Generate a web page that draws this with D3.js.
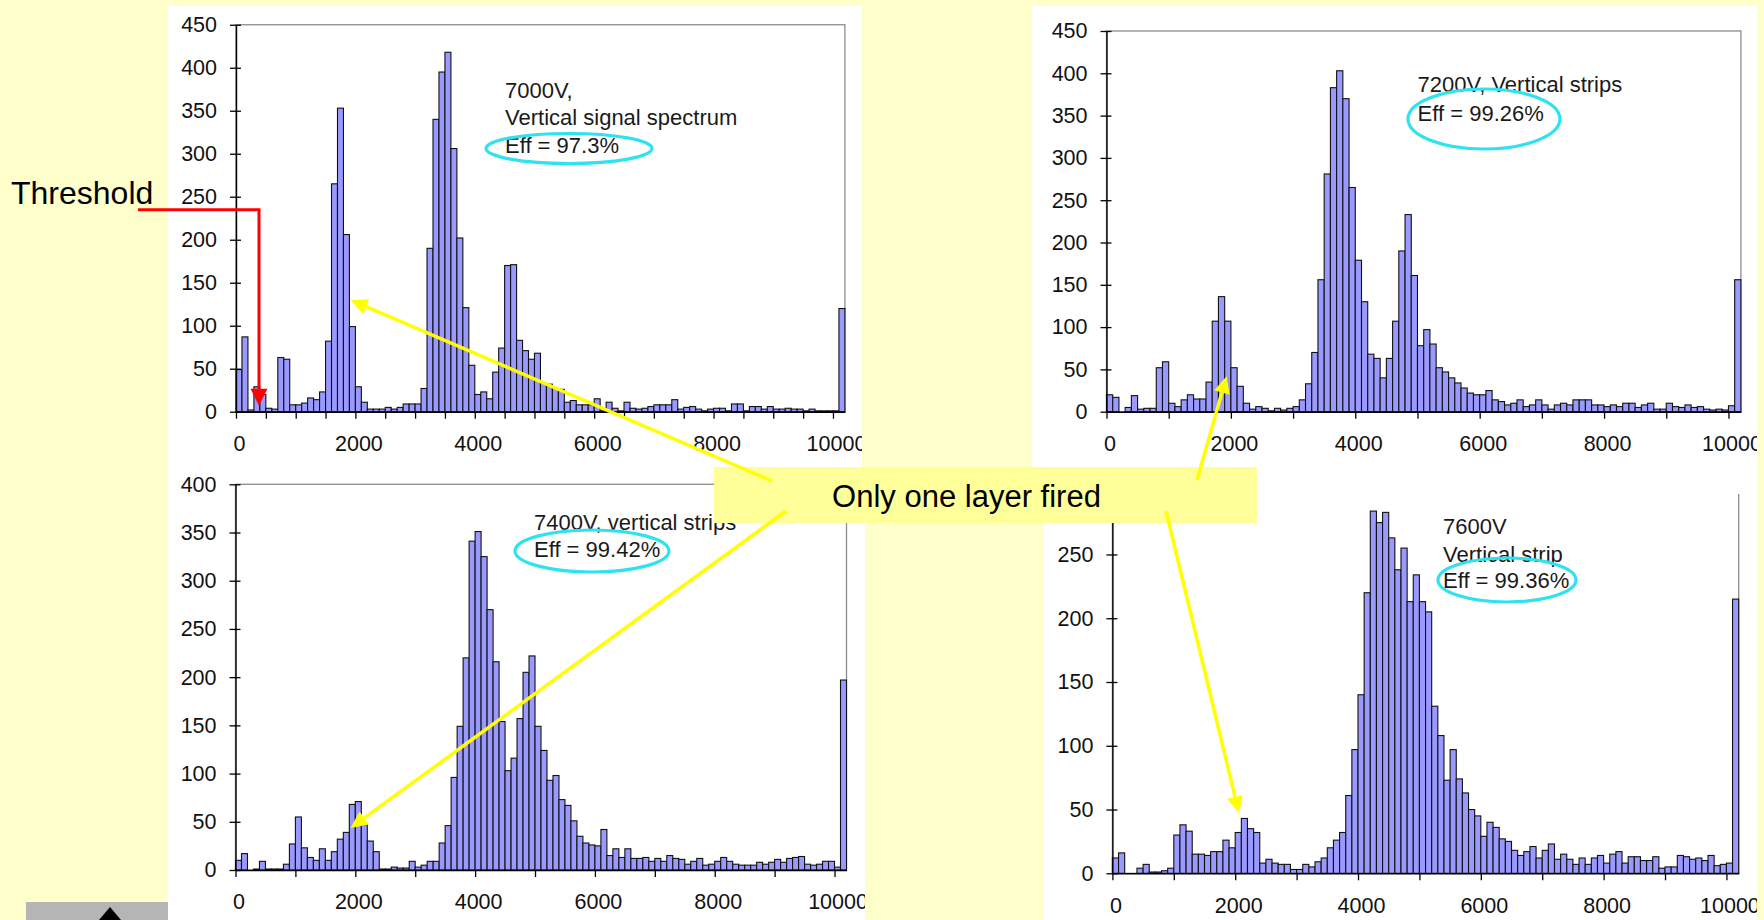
<!DOCTYPE html>
<html>
<head>
<meta charset="utf-8">
<script src="https://cdn.jsdelivr.net/npm/d3@7"></script>
<style>
  html, body { margin: 0; padding: 0; background: #FFFFCC; }
  svg { display: block; }
  text { font-family: "Liberation Sans", Arial, sans-serif; }
</style>
</head>
<body>
<svg id="slide" width="1764" height="920"></svg>
<script>
// ---- Pulse-height spectra: 102 bins of 100 ADC counts, last bin is overflow ----
const binWidth = 100;

const counts7000 = [
  49, 87, 2, 29, 20, 4, 3, 63, 61, 8,
  8, 10, 16, 14, 23, 82, 265, 353, 206, 99,
  29, 11, 3, 3, 3, 5, 3, 5, 9, 9,
  9, 27, 190, 340, 395, 418, 306, 202, 121, 54,
  20, 23, 15, 46, 74, 170, 171, 83, 71, 61,
  68, 33, 32, 27, 26, 11, 13, 8, 8, 8,
  15, 1, 11, 4, 1, 11, 4, 3, 4, 6,
  8, 8, 8, 14, 3, 5, 6, 3, 1, 3,
  4, 4, 1, 9, 9, 1, 6, 6, 3, 6,
  3, 3, 4, 3, 3, 1, 3, 1, 1, 1,
  1, 120
];

const counts7200 = [
  20, 17, 0, 5, 19, 3, 4, 4, 52, 59,
  10, 6, 14, 20, 15, 15, 35, 107, 136, 107,
  52, 30, 10, 3, 6, 4, 1, 4, 2, 4,
  6, 14, 33, 70, 156, 281, 383, 403, 370, 265,
  179, 130, 68, 63, 40, 63, 107, 190, 233, 161,
  78, 97, 80, 52, 47, 40, 34, 28, 22, 20,
  20, 25, 14, 12, 8, 10, 14, 6, 8, 14,
  8, 3, 8, 10, 8, 14, 14, 14, 8, 8,
  6, 8, 6, 10, 10, 5, 8, 10, 3, 3,
  10, 6, 5, 8, 5, 6, 3, 2, 3, 2,
  7, 156
];

const counts7400 = [
  10, 17, 0, 1, 9, 1, 1, 1, 6, 27,
  55, 23, 13, 10, 22, 10, 19, 32, 39, 68,
  71, 47, 30, 19, 1, 1, 3, 2, 2, 9,
  3, 5, 9, 9, 28, 46, 96, 149, 220, 341,
  351, 325, 270, 216, 154, 103, 116, 157, 205, 222,
  149, 124, 93, 98, 73, 67, 51, 35, 28, 26,
  25, 42, 15, 22, 13, 22, 12, 12, 13, 9,
  12, 9, 15, 12, 11, 6, 9, 12, 5, 6,
  9, 13, 9, 6, 5, 5, 5, 8, 6, 8,
  11, 8, 12, 13, 14, 6, 5, 6, 9, 9,
  3, 197
];

const counts7600 = [
  12, 16, 0, 0, 4, 7, 1, 1, 2, 4,
  30, 38, 33, 15, 15, 14, 17, 17, 26, 20,
  32, 43, 35, 32, 8, 11, 8, 7, 7, 3,
  3, 7, 5, 9, 12, 20, 26, 32, 61, 97,
  140, 220, 284, 275, 283, 263, 238, 255, 213, 234,
  213, 205, 131, 108, 73, 97, 74, 63, 50, 45,
  29, 40, 36, 27, 25, 18, 14, 17, 21, 12,
  18, 23, 11, 15, 11, 7, 12, 7, 12, 14,
  8, 15, 17, 8, 13, 13, 10, 10, 13, 4,
  5, 5, 14, 13, 11, 12, 10, 14, 6, 7,
  8, 215
];

const yTicks450 = [0, 50, 100, 150, 200, 250, 300, 350, 400, 450];
const yTicks400 = [0, 50, 100, 150, 200, 250, 300, 350, 400];
const yTicks300 = [0, 50, 100, 150, 200, 250];
const xLabelValues = [0, 2000, 4000, 6000, 8000, 10000];

const notes7000 = ["7000V,", "Vertical signal spectrum", "Eff = 97.3%"];
const notes7200 = ["7200V, Vertical strips", "Eff = 99.26%"];
const notes7400 = ["7400V, vertical strips", "Eff = 99.42%"];
const notes7600 = ["7600V", "Vertical strip", "Eff = 99.36%"];

const calloutText = "Only one layer fired";
const thresholdText = "Threshold";

// ---- layout ----
const svg = d3.select("#slide");
const FONT = 21.5;
const BAR_FILL = "#9999FF";
const RING = "#2FE2F0";
const ARROW_YELLOW = "#FFFF00";

// white chart backgrounds of the slide
const sheets = [
  [168, 6, 694, 466],
  [168, 470, 697, 450],
  [1032, 6, 725, 490],
  [1044, 494, 713, 426]
];
svg.selectAll("rect.sheet").data(sheets).join("rect")
  .attr("class", "sheet")
  .attr("x", d => d[0]).attr("y", d => d[1])
  .attr("width", d => d[2]).attr("height", d => d[3])
  .attr("fill", "#FFFFFF");

const panels = [
  { key: "p7000", counts: counts7000, yMax: 450, yTicks: yTicks450, xStep: 500,
    x0: 236, x1: 844.9, yB: 411.7, yT: 24.75, clip: [168, 6, 694, 466],
    notes: notes7000, noteX: 505, noteY: [98.3, 125, 152.7], ring: [569, 148.5, 83, 15] },
  { key: "p7200", counts: counts7200, yMax: 450, yTicks: yTicks450, xStep: 1000,
    x0: 1106.5, x1: 1740.9, yB: 411.7, yT: 31, clip: [1032, 6, 725, 490],
    notes: notes7200, noteX: 1417.6, noteY: [91.7, 120.7], ring: [1484, 119, 76, 30] },
  { key: "p7400", counts: counts7400, yMax: 400, yTicks: yTicks400, xStep: 1000,
    x0: 235.5, x1: 846.5, yB: 870, yT: 484.3, clip: [168, 470, 697, 450],
    notes: notes7400, noteX: 534, noteY: [530, 557.3], ring: [592, 551, 77, 21] },
  { key: "p7600", counts: counts7600, yMax: 300, yTicks: yTicks300, xStep: 1000,
    x0: 1112.4, x1: 1738.7, yB: 873.3, yT: 490.7, clip: [1044, 494, 713, 426],
    notes: notes7600, noteX: 1443, noteY: [534, 561.7, 588.3], ring: [1507, 580, 69, 22] }
];

const defs = svg.append("defs");
const scales = {};

panels.forEach(p => {
  const nBins = p.counts.length;
  const x = d3.scaleLinear().domain([0, nBins * binWidth]).range([p.x0, p.x1]);
  const y = d3.scaleLinear().domain([0, p.yMax]).range([p.yB, p.yT]);
  scales[p.key] = { x, y };

  defs.append("clipPath").attr("id", "clip-" + p.key)
    .append("rect").attr("x", p.clip[0]).attr("y", p.clip[1])
    .attr("width", p.clip[2]).attr("height", p.clip[3]);

  const g = svg.append("g").attr("clip-path", `url(#clip-${p.key})`);

  // plot-area frame
  g.append("rect")
    .attr("x", x.range()[0]).attr("y", y.range()[1])
    .attr("width", x.range()[1] - x.range()[0])
    .attr("height", y.range()[0] - y.range()[1])
    .attr("fill", "none").attr("stroke", "#8c8c8c").attr("stroke-width", 1.3);

  // histogram columns
  const bins = p.counts.map((v, i) => ({ lo: i * binWidth, hi: (i + 1) * binWidth, v }));
  g.append("g").selectAll("rect").data(bins.filter(b => b.v > 0)).join("rect")
    .attr("x", b => x(b.lo))
    .attr("width", b => x(b.hi) - x(b.lo))
    .attr("y", b => y(b.v))
    .attr("height", b => y(0) - y(b.v))
    .attr("fill", BAR_FILL)
    .attr("stroke", "#111")
    .attr("stroke-width", 1.1);

  // y axis (ticks cross the axis line)
  const yAxis = d3.axisLeft(y).tickValues(p.yTicks).tickSize(6).tickSizeOuter(0).tickPadding(13)
    .tickFormat(d3.format("d"));
  const ya = g.append("g").attr("transform", `translate(${x(0)},0)`).call(yAxis);
  ya.selectAll(".tick").append("line").attr("x1", 0).attr("x2", 5).attr("stroke", "#000");
  ya.selectAll("line").attr("stroke", "#000").attr("stroke-width", 1.3);
  ya.select(".domain").attr("stroke", "#000").attr("stroke-width", 1.4);
  ya.selectAll("text").attr("font-size", FONT).attr("fill", "#111")
    .attr("font-family", "Liberation Sans, Arial, sans-serif");

  // x axis: minor ticks every xStep, labels every 2000
  const xTickVals = d3.range(0, 10000 + 1, p.xStep);
  const xAxis = d3.axisBottom(x).tickValues(xTickVals).tickSize(7).tickSizeOuter(0).tickPadding(17)
    .tickFormat(d => xLabelValues.includes(d) ? String(d) : "");
  const xa = g.append("g").attr("transform", `translate(0,${y(0)})`).call(xAxis);
  xa.selectAll("line").attr("stroke", "#000").attr("stroke-width", 1.3);
  xa.select(".domain").attr("stroke", "#000").attr("stroke-width", 1.4);
  xa.selectAll("text").attr("font-size", FONT).attr("fill", "#111").attr("dx", 3)
    .attr("font-family", "Liberation Sans, Arial, sans-serif");

  // run notes
  g.append("g").selectAll("text").data(p.notes).join("text")
    .attr("x", p.noteX)
    .attr("y", (d, i) => p.noteY[i])
    .attr("font-size", FONT + 0.5)
    .attr("fill", "#1a1a1a")
    .text(d => d);

  // efficiency ring
  svg.append("ellipse")
    .attr("cx", p.ring[0]).attr("cy", p.ring[1])
    .attr("rx", p.ring[2]).attr("ry", p.ring[3])
    .attr("fill", "none").attr("stroke", RING).attr("stroke-width", 3.2);
});

// arrow helper: shaft plus filled triangular head
function arrow(g, x1, y1, x2, y2, color, width, headLen, headW) {
  const dx = x2 - x1, dy = y2 - y1, len = Math.hypot(dx, dy);
  const ux = dx / len, uy = dy / len;
  const bx = x2 - ux * headLen, by = y2 - uy * headLen;
  g.append("line").attr("x1", x1).attr("y1", y1).attr("x2", bx).attr("y2", by)
    .attr("stroke", color).attr("stroke-width", width);
  const nx = -uy * headW / 2, ny = ux * headW / 2;
  g.append("polygon")
    .attr("points", [[x2, y2], [bx + nx, by + ny], [bx - nx, by - ny]].map(p => p.join(",")).join(" "))
    .attr("fill", color);
}

// threshold marker on the 7000 V spectrum
const s1 = scales.p7000;
const thrADC = 385, thrLevel = 235;
const redG = svg.append("g");
redG.append("line").attr("x1", 138).attr("y1", s1.y(thrLevel))
  .attr("x2", s1.x(thrADC) + 1.5).attr("y2", s1.y(thrLevel))
  .attr("stroke", "#FF0000").attr("stroke-width", 3);
arrow(redG, s1.x(thrADC), s1.y(thrLevel), s1.x(thrADC), s1.y(7), "#FF0000", 3, 17, 17);
svg.append("text").attr("x", 11).attr("y", 203.5)
  .attr("font-size", 32).attr("fill", "#000").text(thresholdText);

// callout box
svg.append("rect").attr("x", 714).attr("y", 467).attr("width", 543).attr("height", 56)
  .attr("fill", "#FFFF99");

// arrows from the callout to the single-layer peaks
const yellowG = svg.append("g");
const peakTargets = [
  { from: [772, 481], panel: "p7000", adc: 1919, n: 130 },
  { from: [786, 511], panel: "p7400", adc: 1920, n: 43.6 },
  { from: [1197, 480], panel: "p7200", adc: 1931, n: 42 },
  { from: [1166, 511], panel: "p7600", adc: 2062, n: 47 }
];
peakTargets.forEach(t => {
  const s = scales[t.panel];
  arrow(yellowG, t.from[0], t.from[1], s.x(t.adc), s.y(t.n), ARROW_YELLOW, 3.5, 17, 16);
});

svg.append("text").attr("x", 966.5).attr("y", 507)
  .attr("text-anchor", "middle").attr("font-size", 31).attr("fill", "#000")
  .text(calloutText);

// slide thumbnail strip in the lower-left corner
svg.append("rect").attr("x", 26).attr("y", 902).attr("width", 142).attr("height", 18)
  .attr("fill", "#B5B5B5");
svg.append("polygon").attr("points", "110,907 99,920 121,920").attr("fill", "#000");
</script>
</body>
</html>
